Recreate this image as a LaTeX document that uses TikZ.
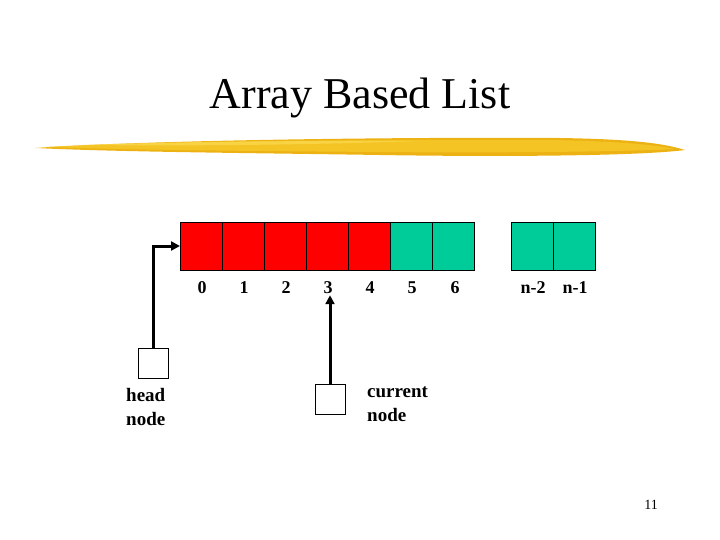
\documentclass[tikz,border=0pt]{standalone}
\usepackage{fontspec}
\setmainfont{Liberation Serif}
\usetikzlibrary{arrows.meta}
\definecolor{cellred}{RGB}{255,0,0}
\definecolor{cellgreen}{RGB}{0,204,153}
\definecolor{brushA}{RGB}{246,200,40}
\definecolor{brushB}{RGB}{236,178,20}
\definecolor{brushC}{RGB}{252,222,90}
\begin{document}
\begin{tikzpicture}[x=1pt,y=-1pt,
  cell/.style={draw=black,line width=0.8pt,minimum width=42pt,minimum height=48pt,inner sep=0pt,outer sep=0pt},
  idx/.style={font=\bfseries\fontsize{18}{18}\selectfont,inner sep=1pt},
  ptrbox/.style={draw=black,fill=white,line width=0.8pt,minimum size=30pt,inner sep=0pt,outer sep=0pt},
  lbl/.style={font=\bfseries\fontsize{19}{24}\selectfont,align=left,inner sep=0pt,anchor=north west},
  ptr/.style={line width=3pt,-{Triangle[length=9pt,width=9pt]}}]
\useasboundingbox (0,0) rectangle (720,540);
% title
\node[font=\fontsize{44}{44}\selectfont,inner sep=0pt] (title) at (360,98) {Array Based List};
% brush stroke
\fill[brushB] (35,148) .. controls (150,140) and (400,137) .. (560,138) .. controls (620,139) and (660,142) .. (685,150) .. controls (640,156) and (500,157) .. (380,155) .. controls (250,153) and (120,152) .. (35,148) -- cycle;
\fill[brushA,opacity=0.85] (45,147) .. controls (160,141) and (400,139) .. (550,140) .. controls (610,141) and (650,144) .. (675,149) .. controls (620,152) and (480,153) .. (380,152) .. controls (250,151) and (130,150) .. (45,147) -- cycle;
\fill[brushC,opacity=0.6] (80,145) .. controls (200,141) and (300,141) .. (420,141) .. controls (300,145) and (200,146) .. (80,145) -- cycle;
% cells
\node[cell,fill=cellred] (c0) at (201,246) {};
\node[cell,fill=cellred] (c1) at (243,246) {};
\node[cell,fill=cellred] (c2) at (285,246) {};
\node[cell,fill=cellred] (c3) at (327,246) {};
\node[cell,fill=cellred] (c4) at (369,246) {};
\node[cell,fill=cellgreen] (c5) at (411,246) {};
\node[cell,fill=cellgreen] (c6) at (453,246) {};
\node[cell,fill=cellgreen] (cn2) at (532,246) {};
\node[cell,fill=cellgreen] (cn1) at (574,246) {};
% indices
\node[idx] (l0) at (202,288) {0};
\node[idx] (l1) at (244,288) {1};
\node[idx] (l2) at (286,288) {2};
\node[idx] (l3) at (328,288) {3};
\node[idx] (l4) at (370,288) {4};
\node[idx] (l5) at (412,288) {5};
\node[idx] (l6) at (455,288) {6};
\node[idx] (ln2) at (533,288) {n-2};
\node[idx] (ln1) at (575,288) {n-1};
% head
\node[ptrbox] (head) at (153,363) {};
\node[lbl] (headl) at (126,388) {head\\node};
\draw[ptr] (head.north) |- (c0.west);
% current
\node[ptrbox] (cur) at (330,399) {};
\node[lbl] (curl) at (367,387) {current\\node};
\draw[ptr] (cur.north) -- (cur.north |- l3.south);
% page number
\node[font=\fontsize{14}{14}\selectfont] (pg) at (651,505) {11};
\end{tikzpicture}
\end{document}
